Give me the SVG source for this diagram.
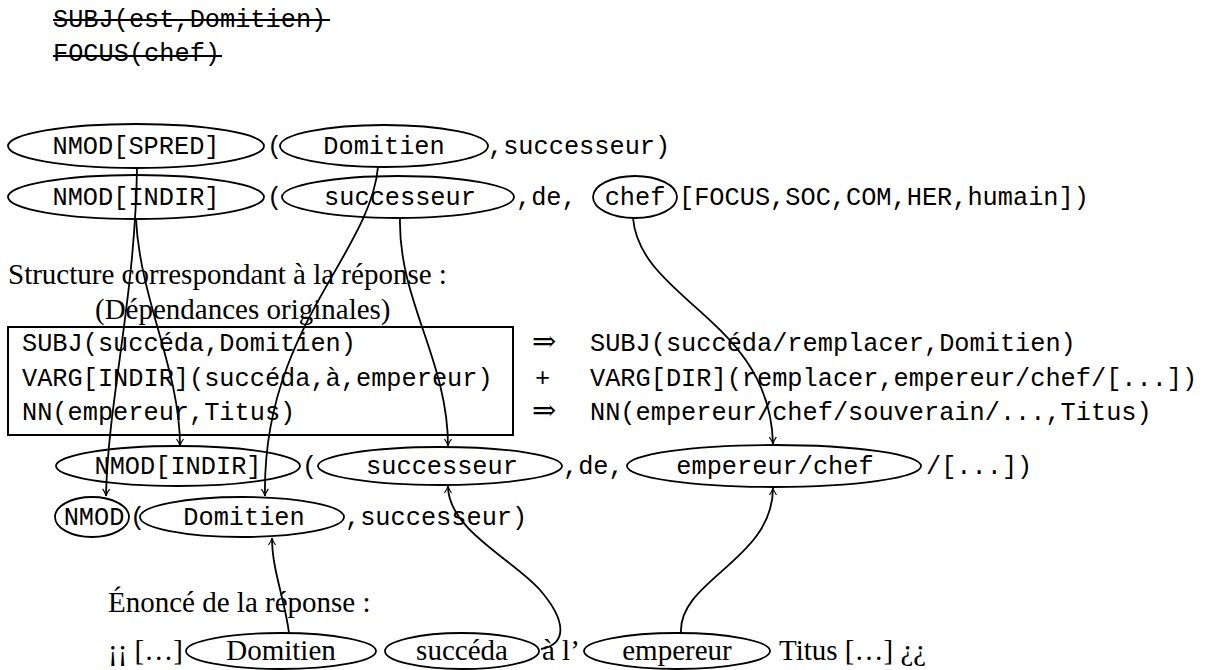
<svg xmlns="http://www.w3.org/2000/svg" width="1215" height="670" viewBox="0 0 1215 670">
<style>
.mono{font-family:"Liberation Mono","DejaVu Sans Mono",monospace;font-size:25.3px;fill:#000}
.serif{font-family:"Liberation Serif","DejaVu Serif",serif;font-size:29px;fill:#000}
.mid{text-anchor:middle}
.ell{fill:none;stroke:#000;stroke-width:1.8}
.strike{stroke:#000;stroke-width:1.8}
.box{fill:none;stroke:#000;stroke-width:2}
.conn{fill:none;stroke:#000;stroke-width:1.8;marker-end:url(#arr)}
</style>
<defs>
<marker id="arr" markerUnits="userSpaceOnUse" markerWidth="12" markerHeight="10" viewBox="-9 -5 10 10" refX="0" refY="0" orient="auto">
<path d="M-7,-3.5 Q-3,-0.6 0,0 Q-3,0.6 -7,3.5" fill="none" stroke="#000" stroke-width="1.2"/>
</marker>
</defs>
<rect width="1215" height="670" fill="#fff"/>

<g id="struck">
<text class="mono" x="53" y="27">SUBJ(est,Domitien)</text>
<line class="strike" x1="53" y1="20" x2="330" y2="20"/>
<text class="mono" x="53" y="61">FOCUS(chef)</text>
<line class="strike" x1="53" y1="56" x2="222" y2="56"/>
</g>

<g id="row1">
<g id="n-nmod-spred"><ellipse class="ell" cx="136" cy="146" rx="128" ry="22"/><text class="mono mid" x="136" y="154">NMOD[SPRED]</text></g>
<text class="mono" x="267" y="154">(</text>
<g id="n-domitien-1"><ellipse class="ell" cx="384" cy="146" rx="104" ry="21"/><text class="mono mid" x="384" y="154">Domitien</text></g>
<text class="mono" x="488" y="154">,successeur)</text>
</g>

<g id="row2">
<g id="n-nmod-indir-1"><ellipse class="ell" cx="136" cy="197" rx="128" ry="22"/><text class="mono mid" x="136" y="205">NMOD[INDIR]</text></g>
<text class="mono" x="267" y="205">(</text>
<g id="n-successeur-1"><ellipse class="ell" cx="398" cy="197" rx="116" ry="21"/><text class="mono mid" x="400" y="205">successeur</text></g>
<text class="mono" x="516" y="205">,de,</text>
<g id="n-chef"><ellipse class="ell" cx="635" cy="197" rx="42" ry="21"/><text class="mono mid" x="635" y="205">chef</text></g>
<text class="mono" x="679" y="205">[FOCUS,SOC,COM,HER,humain])</text>
</g>

<g id="heading">
<text class="serif" x="8" y="284">Structure correspondant à la réponse :</text>
<text class="serif" x="95" y="319">(Dépendances originales)</text>
</g>

<g id="box">
<rect class="box" x="8" y="327" width="505" height="108"/>
<text class="mono" x="22" y="351">SUBJ(succéda,Domitien)</text>
<text class="mono" x="22" y="386">VARG[INDIR](succéda,à,empereur)</text>
<text class="mono" x="22" y="420">NN(empereur,Titus)</text>
</g>

<g id="rewrites">
<text class="serif" x="532" y="351">⇒</text>
<text class="mono" x="590" y="351">SUBJ(succéda/remplacer,Domitien)</text>
<text class="mono" x="535" y="386">+</text>
<text class="mono" x="590" y="386">VARG[DIR](remplacer,empereur/chef/[...])</text>
<text class="serif" x="532" y="420">⇒</text>
<text class="mono" x="590" y="420">NN(empereur/chef/souverain/...,Titus)</text>
</g>

<g id="row3">
<g id="n-nmod-indir-2"><ellipse class="ell" cx="178" cy="466" rx="122" ry="20"/><text class="mono mid" x="178" y="474">NMOD[INDIR]</text></g>
<text class="mono" x="302" y="474">(</text>
<g id="n-successeur-2"><ellipse class="ell" cx="440" cy="466" rx="122" ry="19"/><text class="mono mid" x="442" y="474">successeur</text></g>
<text class="mono" x="563" y="474">,de,</text>
<g id="n-empereur-chef"><ellipse class="ell" cx="774" cy="466" rx="147" ry="21"/><text class="mono mid" x="775" y="474">empereur/chef</text></g>
<text class="mono" x="926" y="474">/[...])</text>
</g>

<g id="row4">
<g id="n-nmod"><ellipse class="ell" cx="92" cy="517" rx="37" ry="20"/><text class="mono mid" x="94" y="525">NMOD</text></g>
<text class="mono" x="130" y="525">(</text>
<g id="n-domitien-2"><ellipse class="ell" cx="242" cy="517" rx="102" ry="20"/><text class="mono mid" x="244" y="525">Domitien</text></g>
<text class="mono" x="345" y="525">,successeur)</text>
</g>

<g id="sentence">
<text class="serif" x="108" y="612">Énoncé de la réponse :</text>
<text class="serif" x="108" y="660">¡¡ […]</text>
<g id="n-domitien-3"><ellipse class="ell" cx="281" cy="651" rx="95" ry="18"/><text class="serif mid" x="281" y="660">Domitien</text></g>
<g id="n-succeda"><ellipse class="ell" cx="462" cy="651" rx="77" ry="18"/><text class="serif mid" x="462" y="660">succéda</text></g>
<text class="serif" x="542" y="660">à l’</text>
<g id="n-empereur"><ellipse class="ell" cx="677" cy="651" rx="93" ry="18"/><text class="serif mid" x="677" y="660">empereur</text></g>
<text class="serif" x="779" y="660">Titus […] ¿¿</text>
</g>

<g id="connectors">
<path class="conn" d="M137,168 C135,300 108,400 106,496"/>
<path class="conn" d="M136,219 C140,300 180,370 180,446"/>
<path class="conn" d="M378,167 C370,255 262,330 265,496"/>
<path class="conn" d="M400,218 C398,300 448,360 448,446"/>
<path class="conn" d="M633,218 C640,300 770,320 773,444"/>
<path class="conn" d="M289,633 C285,600 272,570 272,538"/>
<path class="conn" d="M541,649 C568,644 566,620 540,590 C514,560 448,530 448,486"/>
<path class="conn" d="M681,633 C678,580 773,560 773,488"/>
</g>
</svg>
